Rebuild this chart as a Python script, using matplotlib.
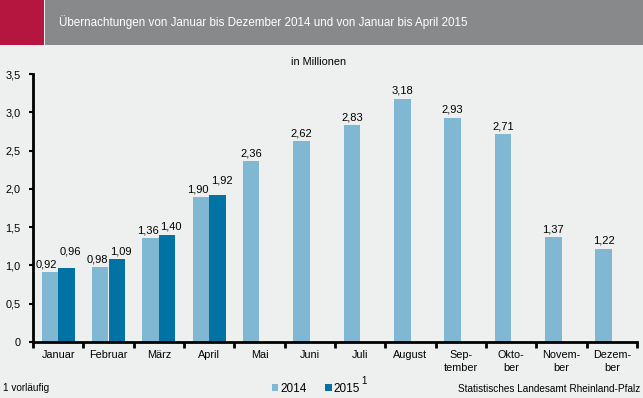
import matplotlib
matplotlib.use("Agg")
import matplotlib.pyplot as plt
from matplotlib.patches import Rectangle
import numpy as np

# data (in Millionen)
months = ["Januar", "Februar", "März", "April", "Mai", "Juni", "Juli", "August",
          "Sep-\ntember", "Okto-\nber", "Novem-\nber", "Dezem-\nber"]
values2014 = [0.92, 0.98, 1.36, 1.90, 2.36, 2.62, 2.83, 3.18, 2.93, 2.71, 1.37, 1.22]
values2015 = [0.96, 1.09, 1.40, 1.92]

plt.rcParams['font.family'] = ['Liberation Sans', 'DejaVu Sans']

bg = '#eef0ef'
c14 = '#80b7d3'
c15 = '#0072a3'

W, H = 643, 398
fig = plt.figure(figsize=(W/100, H/100), dpi=100, facecolor=bg)

# header band
fig.patches.append(Rectangle((0, 1-45/H), 44/W, 45/H, transform=fig.transFigure,
                             facecolor='#b5163f', edgecolor='none'))
fig.patches.append(Rectangle((45/W, 1-45/H), 1-45/W, 45/H, transform=fig.transFigure,
                             facecolor='#88898b', edgecolor='none'))
fig.text(59/W, 1-22/H, "Übernachtungen von Januar bis Dezember 2014 und von Januar bis April 2015",
         color='white', fontsize=8.4, va='center', ha='left')

ax = fig.add_axes([33/W, 56/H, (637-33)/W, (342-74)/H])
ax.set_facecolor(bg)

x = np.arange(len(months))
x15 = np.arange(len(values2015))
w = 0.33
b14 = ax.bar(x - w/2, values2014, w, color=c14, label='2014')
b15 = ax.bar(x15 + w/2, values2015, w, color=c15, label='2015')

# label nudges (pixels) so paired labels do not collide
lift15 = [12, 2, 3, 9]
for i, (xi, v) in enumerate(zip(x - w/2, values2014)):
    paired = i < len(values2015)
    dx, dy = (-3, 2) if paired else (0, 3)
    ax.annotate(f"{v:.2f}".replace('.', ','), (xi, v), xytext=(dx, dy), textcoords='offset pixels',
                ha='center', va='bottom', fontsize=8)
for i, (xi, v) in enumerate(zip(x15 + w/2, values2015)):
    ax.annotate(f"{v:.2f}".replace('.', ','), (xi, v), xytext=(4, lift15[i]), textcoords='offset pixels',
                ha='center', va='bottom', fontsize=8)

ax.set_xlim(-0.5, len(months) - 0.5)
ax.set_ylim(0, 3.5)
ax.set_yticks(np.arange(0, 3.51, 0.5))
ax.set_yticklabels(["0"] + [f"{t:.1f}".replace('.', ',') for t in np.arange(0.5, 3.51, 0.5)])
ax.set_xticks(np.arange(-0.5, len(months), 1))
ax.set_xticklabels([])
ax.set_xticks(x, minor=True)
ax.set_xticklabels(months, minor=True, fontsize=7.8, linespacing=1.3, va='top')
ax.tick_params(axis='x', which='minor', length=0, pad=6)
ax.tick_params(axis='x', which='major', length=4, width=2, direction='out')
ax.tick_params(axis='y', length=3, width=1.5, labelsize=7.8, pad=6)

for s in ['top', 'right']:
    ax.spines[s].set_visible(False)
ax.spines['left'].set_linewidth(2)
ax.spines['bottom'].set_linewidth(2)

fig.text(319/W, 1-62/H, "in Millionen", ha='center', va='center', fontsize=7.8)

fig.legend(handles=[b14, b15], loc='center', bbox_to_anchor=(316/W, 1-389/H), ncol=2,
           frameon=False, handlelength=0.55, handleheight=0.55, handletextpad=0.15,
           columnspacing=1.6, fontsize=8.5, borderpad=0)
fig.text(361/W, 1-381/H, "1", fontsize=7, ha='left', va='center')
fig.text(3/W, 1-388/H, "1 vorläufig", fontsize=7.2, ha='left', va='center')
fig.text(640/W, 1-389/H, "Statistisches Landesamt Rheinland-Pfalz", fontsize=7.2,
         ha='right', va='center')

fig.savefig("out.png", dpi=100, facecolor=bg)
